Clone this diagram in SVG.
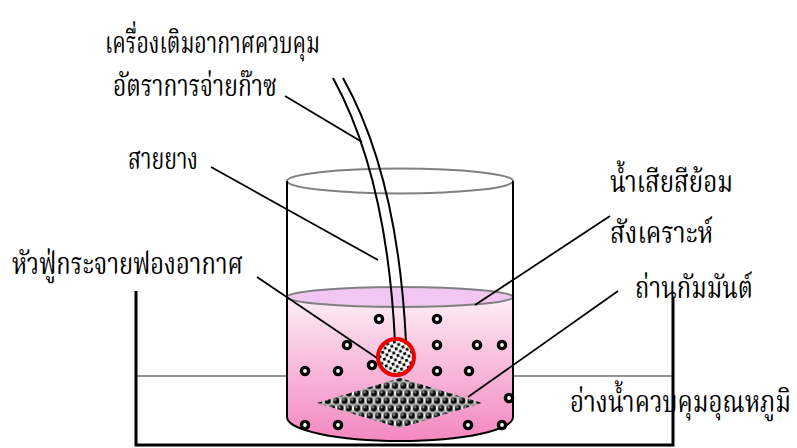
<svg xmlns="http://www.w3.org/2000/svg" width="797" height="448" viewBox="0 0 797 448">
  <style>
    .lbl { font-family: "Noto Serif Thai", "Norasi", "Noto Sans Thai", "Loma", "Garuda", "TlwgTypo", serif; font-size: 30px; fill: #000; }
    .lead { stroke: #000; stroke-width: 1.8; fill: none; }
    .wall { stroke: #000; stroke-width: 2; fill: none; }
    .tank { stroke: #000; stroke-width: 3; fill: none; }
    .rim { stroke: #808080; stroke-width: 2; }
    .hose { stroke: #000; stroke-width: 2; fill: none; }
    .bub { fill: #fff; stroke: #000; stroke-width: 3.4; }
  </style>
  <defs>
    <linearGradient id="liquid" x1="0" y1="297" x2="0" y2="441" gradientUnits="userSpaceOnUse">
      <stop offset="0" stop-color="#fdeef6"/>
      <stop offset="0.45" stop-color="#f8bedd"/>
      <stop offset="1" stop-color="#f388c0"/>
    </linearGradient>
    <radialGradient id="ball" cx="0.35" cy="0.32" r="0.7">
      <stop offset="0" stop-color="#e0e0e0"/>
      <stop offset="0.25" stop-color="#404040"/>
      <stop offset="0.6" stop-color="#000"/>
      <stop offset="1" stop-color="#111"/>
    </radialGradient>
    <!-- packed charcoal granules -->
    <pattern id="carbon" width="8.4" height="15" patternUnits="userSpaceOnUse" x="0.2" y="-0.5">
      <rect width="8.4" height="15" fill="#b8b8b8"/>
      <rect x="-1.6" y="2.15" width="3.2" height="3.2" fill="#fff"/>
      <rect x="6.8" y="2.15" width="3.2" height="3.2" fill="#fff"/>
      <rect x="2.6" y="9.65" width="3.2" height="3.2" fill="#fff"/>
      <circle cx="4.2" cy="3.75" r="3.2" fill="url(#ball)"/>
      <circle cx="0" cy="11.25" r="3.2" fill="url(#ball)"/>
      <circle cx="8.4" cy="11.25" r="3.2" fill="url(#ball)"/>
    </pattern>
    <pattern id="stone" width="7" height="7" patternUnits="userSpaceOnUse" patternTransform="rotate(-15)">
      <rect width="7" height="7" fill="#fff"/>
      <rect x="0.5" y="0.5" width="2.8" height="2.8" fill="#000"/>
      <rect x="4" y="4" width="2.8" height="2.8" fill="#000"/>
    </pattern>
  </defs>

  <!-- labels -->
  <g id="labels">
    <text class="lbl" x="105" y="53" textLength="215" lengthAdjust="spacingAndGlyphs">เครื่องเติมอากาศควบคุม</text>
    <text class="lbl" x="113" y="96" textLength="164" lengthAdjust="spacingAndGlyphs">อัตราการจ่ายก๊าซ</text>
    <text class="lbl" x="128" y="169" textLength="70" lengthAdjust="spacingAndGlyphs">สายยาง</text>
    <text class="lbl" x="12" y="274" textLength="231" lengthAdjust="spacingAndGlyphs">หัวฟู่กระจายฟองอากาศ</text>
    <text class="lbl" x="610" y="192" textLength="123" lengthAdjust="spacingAndGlyphs">น้ำเสียสีย้อม</text>
    <text class="lbl" x="610" y="243" textLength="103" lengthAdjust="spacingAndGlyphs">สังเคราะห์</text>
    <text class="lbl" x="635" y="298" textLength="118" lengthAdjust="spacingAndGlyphs">ถ่านกัมมันต์</text>
    <text class="lbl" x="570" y="412" textLength="221" lengthAdjust="spacingAndGlyphs">อ่างน้ำควบคุมอุณหภูมิ</text>
  </g>

  <!-- water bath -->
  <g id="bath">
    <line x1="137" y1="376" x2="287" y2="376" stroke="#707070" stroke-width="1.5"/>
    <line x1="513" y1="376" x2="672" y2="376" stroke="#707070" stroke-width="1.5"/>
    <polyline class="tank" points="136,291 136,445 673,445 673,297"/>
  </g>

  <!-- beaker with dye solution -->
  <g id="beaker">
    <ellipse class="rim" cx="400" cy="181" rx="113" ry="12.5" fill="none"/>
    <path d="M287,297 L287,417 A113,24 0 0 0 513,417 L513,297 Z" fill="url(#liquid)"/>
    <ellipse class="rim" cx="400" cy="297" rx="113" ry="10" fill="#f2c6f2"/>
    <line class="wall" x1="287" y1="181" x2="287" y2="417"/>
    <line class="wall" x1="513" y1="181" x2="513" y2="417"/>
    <path class="wall" d="M287,417 A113,24 0 0 0 513,417"/>
  </g>

  <!-- activated carbon bed -->
  <g id="carbon-bed">
    <polygon points="317,403 400,378 482,403 400,428" fill="url(#carbon)"/>
  </g>

  <!-- air bubbles -->
  <g id="bubbles">
    <circle class="bub" cx="379" cy="319" r="3.6"/>
    <circle class="bub" cx="437" cy="319" r="3.6"/>
    <circle class="bub" cx="347" cy="345" r="3.6"/>
    <circle class="bub" cx="437" cy="345" r="3.6"/>
    <circle class="bub" cx="477" cy="345" r="3.6"/>
    <circle class="bub" cx="502" cy="345" r="3.6"/>
    <circle class="bub" cx="305" cy="371" r="3.6"/>
    <circle class="bub" cx="338" cy="371" r="3.6"/>
    <circle class="bub" cx="372" cy="365" r="3.6"/>
    <circle class="bub" cx="437" cy="371" r="3.6"/>
    <circle class="bub" cx="469" cy="371" r="3.6"/>
    <circle class="bub" cx="509" cy="398" r="3.6"/>
    <circle class="bub" cx="305" cy="425" r="3.6"/>
    <circle class="bub" cx="338" cy="425" r="3.6"/>
    <circle class="bub" cx="468" cy="425" r="3.6"/>
    <circle class="bub" cx="502" cy="425" r="3.6"/>
  </g>

  <!-- air hose -->
  <g id="hose">
    <path class="hose" d="M333,78 Q387,176 395,342"/>
    <path class="hose" d="M343,78 Q398,176 406,342"/>
  </g>

  <!-- air diffuser stone -->
  <g id="diffuser">
    <circle cx="396" cy="357" r="18" fill="url(#stone)" stroke="#ee0000" stroke-width="4"/>
  </g>

  <!-- leader lines -->
  <g id="connectors">
    <line class="lead" x1="285" y1="96" x2="362" y2="142"/>
    <line class="lead" x1="211" y1="167" x2="378" y2="260"/>
    <line class="lead" x1="257" y1="277" x2="377" y2="358"/>
    <line class="lead" x1="610" y1="216" x2="475" y2="305"/>
    <line class="lead" x1="618" y1="291" x2="468" y2="397"/>
  </g>
</svg>
